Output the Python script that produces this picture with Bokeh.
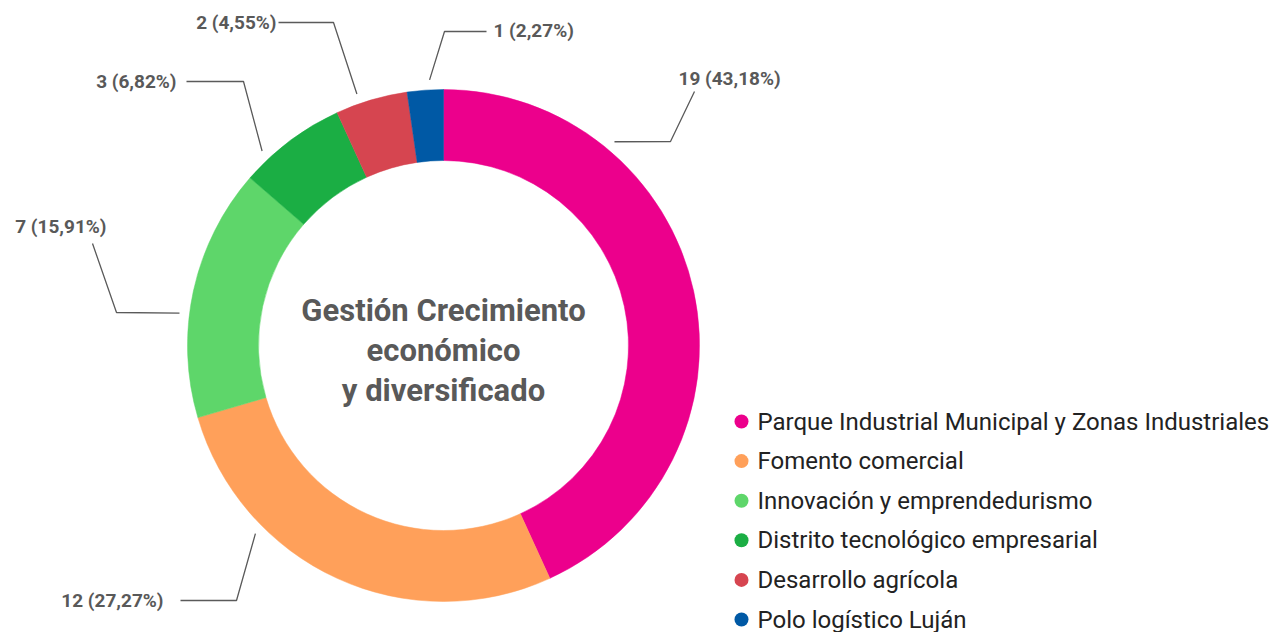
import math
from bokeh.plotting import figure
from bokeh.models import Range1d
from bokeh.core.properties import value
from bokeh.embed import file_html
from bokeh.resources import INLINE

# ---- data ----
categories = [
    "Parque Industrial Municipal y Zonas Industriales",
    "Fomento comercial",
    "Innovación y emprendedurismo",
    "Distrito tecnológico empresarial",
    "Desarrollo agrícola",
    "Polo logístico Luján",
]
counts = [19, 12, 7, 3, 2, 1]
colors = ["#EC008C", "#FFA05A", "#5ED66A", "#1BAE44", "#D64550", "#0059A5"]
title_lines = ["Gestión Crecimiento", "económico", "y diversificado"]

# ---- layout (screen pixels; data y = 632 - screen y) ----
W, H = 1276, 632
CX, CY = 443, 345
R_IN, R_OUT = 185, 256
R_LABEL = 266
label_anchor_deg = [40, 225, 277, 317, 341, 357]   # clockwise from top
label_elbow = [(670, 141), (236, 600), (116, 312), (243, 81), (333, 22), (444, 31)]
label_end = [(694, 91), (180, 600), (92, 243), (186, 81), (278, 22), (486, 31)]
label_text_pos = [(678, 78, "left"), (163, 600, "right"), (106, 226, "right"),
                  (176, 81, "right"), (276, 22, "right"), (493, 30, "left")]


def Y(sy):
    return H - sy


p = figure(width=W, height=H, output_backend="svg", toolbar_location=None,
           x_range=Range1d(0, W), y_range=Range1d(0, H),
           min_border=0)
p.axis.visible = False
p.grid.visible = False
p.outline_line_color = None
p.background_fill_color = "white"
p.border_fill_color = "white"

total = sum(counts)
cum = 0.0
starts, ends = [], []
for c in counts:
    a0 = math.pi / 2 - cum / total * 2 * math.pi
    cum += c
    a1 = math.pi / 2 - cum / total * 2 * math.pi
    starts.append(a0)
    ends.append(a1)

p.annular_wedge(x=CX, y=Y(CY), inner_radius=R_IN, outer_radius=R_OUT,
                start_angle=starts, end_angle=ends, direction="clock",
                fill_color=colors, line_color=colors, line_width=0.5)

# leader lines and labels
label_color = "#595959"
for i, c in enumerate(counts):
    ang = math.radians(label_anchor_deg[i])
    sx = CX + R_LABEL * math.sin(ang)
    sy = CY - R_LABEL * math.cos(ang)
    ex, ey = label_elbow[i]
    tx, ty = label_end[i]
    p.line([sx, ex, tx], [Y(sy), Y(ey), Y(ty)], line_color="#5a5a5a", line_width=1.3)
    pct = f"{c / total * 100:.2f}".replace(".", ",")
    lx, ly, al = label_text_pos[i]
    p.text(x=[lx], y=[Y(ly)], text=[f"{c} ({pct}%)"], text_align=al,
           text_baseline="middle", text_font=value("Roboto"),
           text_font_style="bold", text_font_size="19px", text_color=label_color)

# center title
for j, t in enumerate(title_lines):
    p.text(x=[CX], y=[Y(310 + 40 * j)], text=[t], text_align="center",
           text_baseline="middle", text_font=value("Roboto"),
           text_font_style="bold", text_font_size="31px", text_color="#595959")

# legend
for i, cat in enumerate(categories):
    ly = 421 + 39.6 * i
    p.scatter(x=[741], y=[Y(ly)], size=14, marker="circle",
              fill_color=colors[i], line_color=None)
    p.text(x=[757], y=[Y(ly)], text=[cat], text_align="left",
           text_baseline="middle", text_font=value("Roboto"),
           text_font_size="24px", text_color="#222222")

open("out.html", "w").write(file_html(p, INLINE))
